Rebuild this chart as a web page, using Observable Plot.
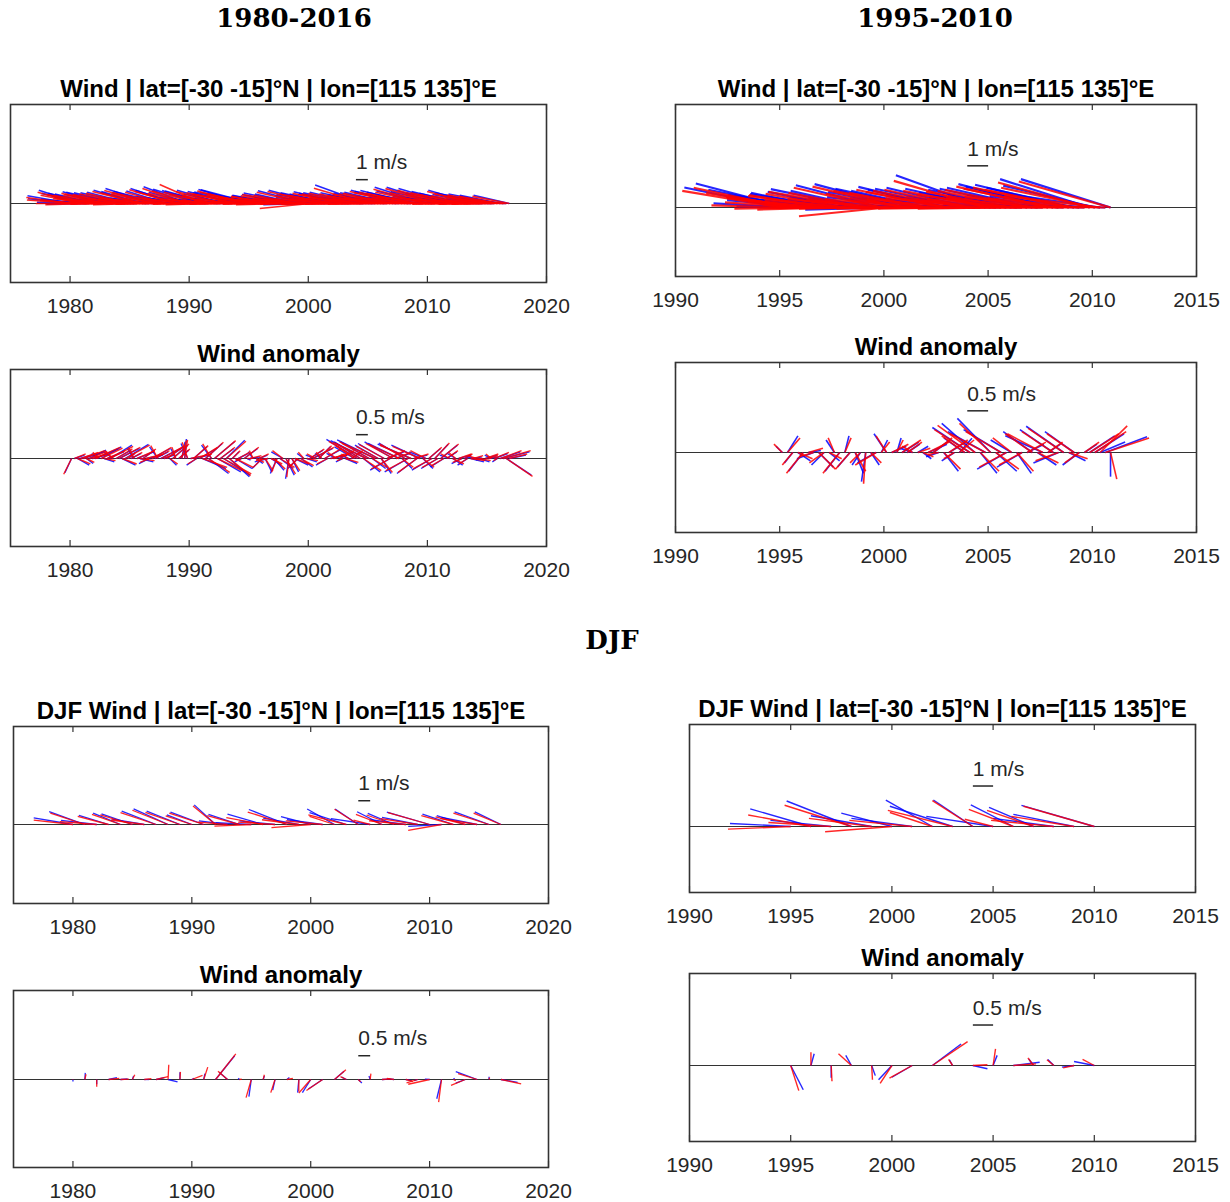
<!DOCTYPE html>
<html><head><meta charset="utf-8">
<script src="https://cdn.jsdelivr.net/npm/d3@7"></script>
<script src="https://cdn.jsdelivr.net/npm/@observablehq/plot@0.6"></script>
<style>
body{margin:0;background:#fff;}
#root{position:relative;width:1230px;height:1202px;overflow:hidden;background:#fff;}
.hdr{position:absolute;font-family:"DejaVu Serif",serif;font-weight:bold;font-size:26px;color:#000;transform:translate(-50%,-50%);white-space:nowrap;}
</style></head><body><div id="root"></div>
<script>
// ---------------- DATA ----------------
const yearsAll = [1980,1981,1982,1983,1984,1985,1986,1987,1988,1989,1990,1991,1992,1993,1994,1995,1996,1997,1998,1999,2000,2001,2002,2003,2004,2005,2006,2007,2008,2009,2010,2011,2012,2013,2014,2015,2016];
const years9510 = [1995,1996,1997,1998,1999,2000,2001,2002,2003,2004,2005,2006,2007,2008,2009,2010];
const seasonOffsets = [0.125, 0.375, 0.625, 0.875]; // DJF, MAM, JJA, SON

// Seasonal wind (m/s), 1980-2016, 4 values per year
const windBlueU = [
-3.7,-3.9,-3.4,-3.5, -3.5,-3.8,-3.6,-3.7, -3.4,-3.7,-3.3,-3.5, -3.6,-3.9,-3.5,-4.2, -3.8,-3.6,-3.4,-4.0,
-3.7,-3.8,-3.6,-3.9, -3.5,-3.9,-3.5,-3.9, -3.6,-4.0,-3.7,-4.2, -3.4,-3.7,-3.4,-3.8, -3.6,-3.8,-3.5,-3.7,
-3.5,-3.9,-3.6,-3.9, -3.4,-3.8,-3.5,-3.9, -3.7,-3.9,-3.6,-3.9, -3.6,-4.0,-3.5,-4.0, -3.8,-3.9,-3.7,-4.1,
-4.7,-4.4,-3.8,-4.3, -3.6,-3.9,-3.7,-4.3, -3.5,-3.8,-3.6,-4.3, -3.7,-4.0,-3.7,-4.3, -3.6,-3.9,-3.6,-4.1,
-3.9,-4.0,-3.7,-4.2, -3.8,-4.1,-3.8,-4.2, -3.7,-4.0,-3.7,-4.1, -3.9,-4.1,-3.8,-4.3, -4.0,-4.2,-3.9,-4.3,
-4.1,-4.3,-3.9,-4.2, -4.0,-4.2,-3.8,-4.2, -4.1,-4.3,-3.9,-4.3, -4.2,-4.4,-4.0,-4.5, -4.2,-4.3,-4.0,-4.3,
-4.4,-4.5,-4.1,-4.3, -4.2,-4.3,-3.9,-4.3, -3.9,-4.1,-3.8,-4.2, -3.8,-4.0,-3.7,-3.8, -3.7,-3.9,-3.6,-4.2,
-3.6,-3.8,-3.5,-4.1, -3.4,-3.6,-3.5,-3.0];
const windBlueV = [
0.65,0.40,0.10,1.12, 0.85,0.35,-0.05,0.85, 0.80,0.50,0.15,0.98, 0.75,0.45,0.05,0.95, 0.90,0.40,0.10,0.90,
0.95,0.50,0.00,1.12, 1.00,0.55,0.10,1.26, 0.90,0.45,0.05,1.00, 1.05,0.50,0.15,1.26, 1.10,0.60,0.10,1.40,
0.95,0.45,0.05,1.20, 1.10,0.50,0.00,1.05, 0.85,0.40,0.10,1.12, 0.80,0.35,0.05,1.00, 0.90,0.45,0.10,1.18,
0.96,1.15,0.20,0.85, 0.60,0.35,0.05,0.56, 0.70,0.40,0.00,0.64, 0.75,0.45,0.10,0.88, 0.80,0.50,0.05,1.07,
-0.10,0.45,0.10,1.12, 0.75,0.50,0.05,0.90, 0.80,0.45,0.10,0.99, 0.85,0.50,0.05,0.90, 0.95,0.55,0.10,1.55,
0.90,0.50,0.05,0.72, 0.85,0.50,0.10,0.90, 0.95,0.55,0.10,1.12, 1.00,0.60,0.15,1.09, 0.95,0.55,0.10,1.36,
1.05,0.65,0.15,1.36, 1.00,0.60,0.10,1.26, 0.90,0.50,0.05,1.00, 0.85,0.45,0.10,1.12, 0.75,0.40,0.05,0.90,
0.70,0.40,0.05,0.80, 0.70,0.45,0.10,0.70];
const windRedU = [
-3.8,-4.0,-3.5,-3.6, -3.6,-3.9,-3.7,-3.8, -3.5,-3.8,-3.4,-3.6, -3.7,-4.0,-3.6,-4.3, -3.9,-3.7,-3.5,-4.1,
-3.8,-3.9,-3.7,-4.0, -3.6,-4.0,-3.6,-4.0, -3.7,-4.1,-3.8,-4.3, -3.5,-3.8,-3.5,-3.9, -3.7,-3.9,-3.6,-3.8,
-3.6,-4.0,-3.7,-4.0, -3.6,-3.9,-3.6,-4.0, -3.8,-4.0,-3.7,-4.0, -3.7,-4.1,-3.6,-4.1, -3.9,-4.0,-3.8,-4.2,
-4.8,-4.5,-3.9,-4.4, -3.7,-4.0,-3.8,-4.4, -3.6,-3.9,-3.7,-4.4, -3.8,-4.1,-3.8,-4.4, -3.7,-4.0,-3.7,-4.2,
-4.2,-4.1,-3.8,-4.3, -3.9,-4.2,-3.9,-4.3, -3.8,-4.1,-3.8,-4.2, -4.0,-4.2,-3.9,-4.4, -4.1,-4.3,-4.0,-4.4,
-4.2,-4.4,-4.0,-4.3, -4.1,-4.3,-3.9,-4.3, -4.2,-4.4,-4.0,-4.4, -4.3,-4.5,-4.1,-4.6, -4.3,-4.4,-4.1,-4.4,
-4.5,-4.6,-4.2,-4.4, -4.3,-4.4,-4.0,-4.4, -4.0,-4.2,-3.9,-4.3, -3.9,-4.1,-3.8,-3.9, -3.8,-4.0,-3.7,-4.3,
-3.7,-3.9,-3.6,-4.2, -3.5,-3.7,-3.6,-3.1];
const windRedV = [
0.50,0.30,0.00,0.95, 0.70,0.25,-0.10,0.75, 0.70,0.40,0.05,0.85, 0.65,0.35,-0.05,0.80, 0.75,0.30,0.00,0.80,
0.85,0.40,-0.10,1.00, 0.90,0.45,0.00,1.10, 0.80,0.35,-0.05,0.90, 0.95,0.40,0.05,1.15, 1.00,0.50,0.00,1.25,
0.85,0.35,-0.05,1.05, 1.60,0.40,-0.10,0.95, 0.75,0.30,0.00,1.00, 0.70,0.25,-0.05,0.90, 0.80,0.35,0.00,1.05,
0.80,0.95,0.10,0.70, 0.50,0.25,-0.05,0.45, 0.60,0.30,-0.10,0.55, 0.65,0.35,0.00,0.75, 0.70,0.40,-0.05,0.95,
-0.42,0.35,0.00,1.00, 0.65,0.40,-0.05,0.80, 0.70,0.35,0.00,0.85, 0.75,0.40,-0.05,0.80, 0.85,0.45,0.00,1.28,
0.80,0.40,-0.05,0.62, 0.75,0.40,0.00,0.80, 0.85,0.45,0.00,1.00, 0.90,0.50,0.05,0.95, 0.85,0.45,0.00,1.20,
0.95,0.55,0.05,1.25, 0.90,0.50,0.00,1.10, 0.80,0.40,-0.05,0.90, 0.75,0.35,0.00,1.00, 0.65,0.30,-0.05,0.80,
0.60,0.30,-0.05,0.70, 0.60,0.35,0.00,0.60];

// Seasonal wind anomaly (m/s), 1980-2016
const anomBlueU = [
-0.28,0.42,0.49,0.70, 0.84,0.28,0.70,0.56, 0.98,-0.28,0.84,0.42, 0.70,0.91,-0.42,0.63, 0.84,0.56,0.98,0.28,
0.42,-0.28,0.70,0.56, 0.49,0.70,-0.42,0.77, 0.56,-0.35,0.84,0.42, 0.70,0.28,0.63,-0.21, 0.42,0.14,0.07,-0.28,
0.84,0.56,-0.42,0.70, 0.98,0.70,0.84,-0.42, 0.84,0.98,0.56,1.12, 0.77,0.84,0.28,0.70, 0.42,-0.28,0.56,0.14,
0.42,-0.21,0.28,0.35, -0.42,0.28,-0.56,0.42, 0.42,-0.28,0.56,-0.49, 0.35,-0.14,0.28,0.56, -0.42,0.49,-0.28,0.42,
0.56,0.84,-0.42,0.49, -0.28,0.63,-0.49,0.70, 0.42,-0.42,0.56,-0.28, 0.49,-0.35,0.42,-0.84, -1.30,-1.10,0.70,-1.50,
-1.20,0.56,-1.60,-0.98, 0.42,-1.10,0.70,-0.84, -1.20,0.56,-1.30,0.42, -1.10,-0.98,-1.40,0.56, -0.84,-1.20,0.42,-0.70,
0.49,-0.84,0.56,-0.70, 0.70,-0.56,0.42,-0.42, 0.42,-0.35,0.49,-0.42, 0.28,-0.42,0.56,0.35, -0.42,0.42,-0.28,0.49,
0.35,-0.28,0.56,-0.21, 0.84,1.10,1.05,0.70];
const anomBlueV = [
-0.60,0.14,-0.28,0.21, 0.28,-0.21,0.35,0.14, 0.42,0.21,0.49,-0.14, 0.28,0.56,0.28,0.35, 0.42,-0.28,0.59,0.21,
0.21,0.42,0.28,-0.14, 0.35,0.14,-0.21,0.42, 0.28,0.49,0.42,0.14, 0.49,-0.28,0.56,0.42, 0.35,0.70,0.82,0.63,
0.14,0.49,-0.28,0.42, -0.42,0.63,-0.63,0.56, 0.70,-0.56,0.42,-0.70, 0.77,-0.77,0.28,-0.42, 0.21,-0.14,0.42,-0.07,
0.07,0.28,-0.21,0.14, -0.42,-0.56,-0.14,-0.28, -0.49,-0.63,-0.42,0.28, -0.70,-0.85,-0.56,-0.28, -0.42,-0.35,0.21,-0.14,
0.35,0.42,0.14,0.49, 0.21,0.35,-0.28,0.14, 0.14,0.21,0.28,-0.14, -0.21,0.14,0.28,0.49, 0.80,0.70,-0.56,0.75,
0.70,-0.42,0.78,0.56, -0.63,0.63,0.28,-0.49, 0.70,0.21,0.63,-0.42, 0.65,-0.56,0.60,0.14, -0.63,0.56,-0.42,0.28,
0.42,-0.49,0.60,-0.42, 0.56,-0.35,0.28,0.14, -0.28,0.21,0.14,-0.21, 0.14,-0.28,-0.14,0.07, 0.07,-0.14,-0.07,0.14,
0.07,0.14,0.21,-0.14, 0.28,0.28,-0.70,0.14];
const anomRedU = [
-0.33,0.47,0.54,0.75, 0.89,0.33,0.75,0.61, 1.03,-0.23,0.89,0.47, 0.75,0.96,-0.37,0.68, 0.89,0.61,1.03,0.33,
0.47,-0.23,0.75,0.61, 0.54,0.75,-0.37,0.82, 0.61,-0.30,0.89,0.47, 0.75,0.33,0.68,-0.16, 0.47,0.19,0.12,-0.23,
0.89,0.61,-0.37,0.75, 1.03,0.75,0.89,-0.37, 0.89,1.03,0.61,1.17, 0.82,0.89,0.33,0.75, 0.47,-0.23,0.61,0.19,
0.47,-0.16,0.33,0.40, -0.37,0.33,-0.51,0.47, 0.47,-0.23,0.61,-0.44, 0.40,-0.09,0.33,0.61, -0.37,0.54,-0.23,0.47,
0.61,0.89,-0.37,0.54, -0.23,0.68,-0.44,0.75, 0.47,-0.37,0.61,-0.23, 0.54,-0.30,0.47,-0.79, -1.20,-1.05,0.75,-1.40,
-1.15,0.61,-1.50,-0.93, 0.47,-1.05,0.75,-0.79, -1.15,0.61,-1.25,0.47, -1.05,-0.93,-1.30,0.61, -0.79,-1.15,0.47,-0.65,
0.54,-0.79,0.61,-0.65, 0.75,-0.51,0.47,-0.37, 0.47,-0.30,0.54,-0.37, 0.33,-0.37,0.61,0.40, -0.37,0.47,-0.23,0.54,
0.40,-0.23,0.61,-0.16, 0.89,1.15,1.10,0.75];
const anomRedV = [
-0.66,0.19,-0.23,0.26, 0.33,-0.16,0.30,0.19, 0.47,0.26,0.44,-0.09, 0.33,0.51,0.33,0.40, 0.47,-0.23,0.56,0.26,
0.26,0.47,0.33,-0.09, 0.40,0.19,-0.16,0.47, 0.33,0.54,0.47,0.19, 0.54,-0.23,0.61,0.47, 0.40,0.75,0.78,0.68,
0.19,0.54,-0.23,0.47, -0.37,0.68,-0.58,0.61, 0.75,-0.51,0.47,-0.65, 0.72,-0.72,0.33,-0.37, 0.26,-0.09,0.47,0.00,
0.12,0.33,-0.16,0.19, -0.37,-0.51,-0.09,-0.23, -0.44,-0.58,-0.37,0.33, -0.65,-0.78,-0.51,-0.23, -0.37,-0.30,0.26,-0.09,
0.40,0.47,0.19,0.54, 0.26,0.40,-0.23,0.19, 0.19,0.26,0.33,-0.09, -0.16,0.19,0.33,0.54, 0.72,0.65,-0.51,0.68,
0.63,-0.37,0.70,0.51, -0.58,0.58,0.33,-0.44, 0.63,0.26,0.58,-0.37, 0.60,-0.51,0.55,0.19, -0.58,0.51,-0.37,0.33,
0.47,-0.44,0.65,-0.37, 0.61,-0.30,0.33,0.19, -0.23,0.26,0.19,-0.16, 0.19,-0.23,-0.09,0.12, 0.12,-0.09,-0.02,0.19,
0.12,0.19,0.26,-0.09, 0.33,0.33,-0.75,0.19];

// Seasonal wind anomaly (m/s), 1995-2010 base period
const anom9510BlueU = [
-0.15,0.25,-0.20,0.30, -0.35,0.30,-0.40,0.35, -0.30,0.25,-0.20,-0.35, 0.10,-0.30,0.20,-0.20,
-0.10,0.20,-0.45,0.15, -0.30,0.35,0.10,0.40, 0.30,-0.30,0.25,0.20, 0.45,0.40,-0.30,0.35,
0.40,-0.30,0.30,-0.50, -0.90,-0.80,0.40,-0.90, -0.80,0.50,-0.90,-0.70, -0.50,0.35,-0.60,0.40,
-0.70,0.45,-0.90,0.30, -0.80,-0.60,-0.90,0.40, -0.70,-0.40,0.30,0.60, 0.70,0.60,1.00,0.00];
const anom9510BlueV = [
0.15,0.40,-0.25,-0.20, -0.45,0.05,-0.15,-0.35, -0.30,-0.20,0.30,-0.45, 0.40,-0.35,-0.50,-0.30,
-0.70,-0.30,-0.25,0.30, 0.45,0.15,0.35,0.25, 0.20,0.10,0.15,-0.15, 0.20,0.30,-0.10,-0.45,
0.25,-0.20,0.34,0.35, 0.60,0.70,-0.50,0.50, 0.82,-0.45,0.55,-0.40, 0.30,-0.50,-0.35,0.20,
0.50,-0.30,0.40,0.20, 0.55,-0.25,0.63,-0.20, 0.50,-0.30,0.20,0.40, 0.45,0.25,0.38,-0.58];
const anom9510RedU = [
-0.20,0.30,-0.25,0.35, -0.40,0.35,-0.35,0.40, -0.35,0.30,-0.15,-0.40, 0.15,-0.35,0.25,-0.25,
-0.05,0.25,-0.50,0.20, -0.25,0.40,0.15,0.45, 0.35,-0.25,0.30,0.25, 0.50,0.45,-0.25,0.40,
0.45,-0.25,0.35,-0.55, -0.85,-0.90,0.45,-0.85, -0.75,0.55,-0.85,-0.65, -0.45,0.40,-0.55,0.45,
-0.65,0.50,-0.85,0.35, -0.75,-0.55,-0.85,0.45, -0.65,-0.35,0.35,0.70, 0.75,0.65,1.05,0.15];
const anom9510RedV = [
0.20,0.35,-0.30,-0.15, -0.50,0.10,-0.10,-0.40, -0.25,-0.15,0.35,-0.50, 0.35,-0.40,-0.45,-0.25,
-0.75,-0.25,-0.30,0.25, 0.40,0.20,0.30,0.30, 0.25,0.15,0.10,-0.10, 0.25,0.35,-0.05,-0.40,
0.30,-0.15,0.30,0.40, 0.55,0.65,-0.45,0.45, 0.70,-0.40,0.50,-0.35, 0.35,-0.45,-0.30,0.25,
0.45,-0.25,0.45,0.25, 0.50,-0.20,0.58,-0.15, 0.45,-0.25,0.25,0.45, 0.50,0.64,0.35,-0.64];

// DJF wind (m/s), one value per year 1980-2016
const djfBlueU = [-3.3,-3.0,-3.0,-2.5,-2.3,-2.6,-2.7,-2.9,-2.9,-2.8,-2.1,-2.8,-1.8,-2.4,-2.6,-3.0,-3.0,-3.0,-3.2,-3.0,-2.5,-3.0,-2.3,-3.1,-1.95,-3.3,-2.1,-2.2,-3.0,-3.0,-3.6,-2.8,-2.6,-2.4,-3.0,-2.9,-2.2];
const djfBlueV = [0.56,1.09,0.35,0.76,0.95,0.90,0.45,1.12,1.32,1.12,0.81,1.04,1.65,0.30,0.85,0.15,0.87,0.30,1.26,0.53,0.66,0.40,1.30,1.00,1.31,0.50,1.07,0.94,0.40,0.60,1.04,-0.15,0.87,0.75,0.60,1.06,1.06];
const djfRedU = [-3.3,-2.9,-3.1,-2.6,-2.4,-2.7,-2.8,-3.0,-3.0,-2.9,-2.2,-2.9,-1.9,-2.5,-2.7,-3.1,-3.1,-3.1,-3.3,-3.1,-3.3,-3.1,-2.1,-3.2,-2.0,-1.4,-2.2,-2.3,-3.1,-3.1,-3.5,-2.8,-2.7,-2.5,-3.1,-3.0,-2.3];
const djfRedV = [0.36,0.95,0.25,0.68,0.85,0.80,0.38,1.00,1.20,1.02,0.72,0.95,1.55,0.20,0.75,-0.13,0.57,0.20,1.05,0.40,-0.26,0.30,0.69,0.80,1.28,0.36,0.85,0.80,0.30,0.50,1.00,-0.50,0.75,0.65,0.50,0.95,0.95];

// DJF wind anomaly (m/s), 1980-2016
const djfAnomBlueU = [0.00,0.02,0.00,0.35,0.30,0.05,0.20,0.35,0.40,0.00,0.10,0.05,0.80,-0.35,-0.05,-0.10,0.05,-0.10,0.10,-0.05,-0.35,-0.60,0.40,-0.20,0.15,-0.05,0.30,-0.20,0.25,-0.15,-0.20,-0.20,0.05,-0.40,-0.90,0.00,0.70];
const djfAnomBlueV = [-0.08,0.28,-0.20,0.08,0.03,0.15,0.00,0.08,-0.10,0.30,0.05,0.25,1.00,0.30,0.05,-0.72,0.15,-0.45,0.08,-0.55,-0.55,-0.40,0.35,0.10,-0.15,0.15,0.02,0.03,-0.05,-0.05,0.02,-0.81,0.05,-0.15,0.33,0.12,-0.12];
const djfAnomRedU = [0.00,0.05,0.00,0.45,0.35,0.10,0.30,0.50,0.03,0.02,0.45,0.17,0.85,-0.40,0.10,-0.22,0.05,-0.18,0.25,0.00,-0.50,-0.68,0.48,-0.25,0.10,0.03,0.35,-0.30,0.30,-0.47,-0.90,-0.12,0.10,-0.60,-0.80,0.02,0.85];
const djfAnomRedV = [-0.02,0.22,-0.31,0.05,0.02,0.20,0.04,0.12,0.62,0.32,0.17,0.52,1.08,0.35,0.02,-0.76,0.20,-0.55,0.05,-0.50,-0.57,-0.46,0.41,0.12,-0.10,0.25,0.03,0.05,-0.08,-0.14,-0.20,-0.95,-0.05,-0.25,0.25,0.08,-0.18];

// DJF wind anomaly (m/s), 1995-2010 base period
const djfAnom9510BlueU = [0.31,0.08,0.00,-0.14,0.09,-0.33,-0.50,0.71,-0.08,0.36,0.10,0.65,-0.12,-0.15,-0.30,-0.50];
const djfAnom9510BlueV = [-0.60,0.29,-0.30,0.25,-0.25,-0.35,-0.29,0.53,0.14,-0.08,0.25,0.08,0.16,0.15,-0.04,0.10];
const djfAnom9510RedU = [0.20,0.00,0.02,-0.32,0.02,-0.29,-0.56,0.87,-0.10,0.36,0.06,0.56,-0.14,-0.17,-0.27,-0.29];
const djfAnom9510RedV = [-0.62,0.33,-0.39,0.29,-0.35,-0.44,-0.31,0.59,0.15,0.02,0.41,0.04,0.19,0.14,-0.06,0.15];

const ticksLong = [1980, 1990, 2000, 2010, 2020];
const ticksShort = [1990, 1995, 2000, 2005, 2010, 2015];
const titleWind = "Wind | lat=[-30 -15]°N | lon=[115 135]°E";
const titleDJF = "DJF Wind | lat=[-30 -15]°N | lon=[115 135]°E";
const titleAnom = "Wind anomaly";

// ---------------- BUILD ----------------
const seasonalRows = (years, u, v) => u.map((uu, i) => ({t: years[Math.floor(i / 4)] + seasonOffsets[i % 4], u: uu, v: v[i]}));
const yearlyRows = (years, u, v) => u.map((uu, i) => ({t: years[i], u: uu, v: v[i]}));
const inWindow = d => d.t >= 1995 && d.t < 2011;

const wind = [seasonalRows(yearsAll, windBlueU, windBlueV), seasonalRows(yearsAll, windRedU, windRedV)];
const anom = [seasonalRows(yearsAll, anomBlueU, anomBlueV), seasonalRows(yearsAll, anomRedU, anomRedV)];
const anom9510 = [seasonalRows(years9510, anom9510BlueU, anom9510BlueV), seasonalRows(years9510, anom9510RedU, anom9510RedV)];
const djf = [yearlyRows(yearsAll, djfBlueU, djfBlueV), yearlyRows(yearsAll, djfRedU, djfRedV)];
const djfAnom = [yearlyRows(yearsAll, djfAnomBlueU, djfAnomBlueV), yearlyRows(yearsAll, djfAnomRedU, djfAnomRedV)];
const djfAnom9510 = [yearlyRows(years9510, djfAnom9510BlueU, djfAnom9510BlueV), yearlyRows(years9510, djfAnom9510RedU, djfAnom9510RedV)];

const root = document.getElementById("root");
const FONT = "'Liberation Sans', Arial, Helvetica, sans-serif";

function panel(p) {
  const mL = 40, mR = 40, mT = 40, mB = 50;
  const w = p.right - p.left, h = p.bottom - p.top;
  const ppu = w / (p.x1 - p.x0);
  const yTop = (p.zero - p.top) / ppu, yBot = -(p.bottom - p.zero) / ppu;
  const tickLen = 6 / ppu;
  const k = p.k;
  const stick = (rows, color) => Plot.link(rows, {
    x1: "t", y1: 0, x2: d => d.t + k * d.u, y2: d => k * d.v,
    stroke: color, strokeWidth: p.sw, strokeOpacity: 0.85
  });
  const barX = 2004, barY = 2;
  const svg = Plot.plot({
    width: w + mL + mR, height: h + mT + mB,
    marginLeft: mL, marginRight: mR, marginTop: mT, marginBottom: mB,
    x: {domain: [p.x0, p.x1]},
    y: {domain: [yBot, yTop], axis: null},
    style: {fontFamily: FONT, fontSize: "21px", background: "transparent", overflow: "visible"},
    marks: [
      Plot.ruleY([0], {stroke: "#333", strokeWidth: 1.1}),
      stick(p.data[0], "#0000ff"),
      stick(p.data[1], "#ff0000"),
      Plot.link([p.barValue], {x1: barX, x2: d => barX + k * d, y1: barY, y2: barY, stroke: "#262626", strokeWidth: 1.5}),
      Plot.text([p.barLabel], {x: barX, y: barY, text: d => d, dy: -17, textAnchor: "start", lineAnchor: "middle", fontSize: 21, fill: "#262626"}),
      Plot.ruleX(p.ticks, {x: d => d, y1: yTop, y2: yTop - tickLen, stroke: "#333", strokeWidth: 1.2}),
      Plot.ruleX(p.ticks, {x: d => d, y1: yBot, y2: yBot + tickLen, stroke: "#333", strokeWidth: 1.2}),
      Plot.frame({stroke: "#333", strokeWidth: 1.6}),
      Plot.axisX({anchor: "bottom", ticks: p.ticks, tickSize: 0, tickPadding: 16, tickFormat: d => String(d), label: null, fill: "#262626", fontSize: 21}),
      Plot.text([p.title], {frameAnchor: "top", dy: -15, lineAnchor: "middle", fontSize: 24, fontWeight: "bold", fill: "#000"})
    ]
  });
  svg.style.position = "absolute";
  svg.style.left = (p.left - mL) + "px";
  svg.style.top = (p.top - mT) + "px";
  root.appendChild(svg);
}

function header(text, x, y) {
  const d = document.createElement("div");
  d.className = "hdr";
  d.textContent = text;
  d.style.left = x + "px";
  d.style.top = y + "px";
  root.appendChild(d);
}

header("1980-2016", 294, 18);
header("1995-2010", 935, 18);
header("DJF", 612, 640);

panel({left: 10, top: 104, right: 546, bottom: 282, zero: 203, x0: 1975, x1: 2020, ticks: ticksLong, k: 1, sw: 1.6, data: wind, barValue: 1, barLabel: "1 m/s", title: titleWind});
panel({left: 10, top: 369, right: 546, bottom: 546, zero: 458, x0: 1975, x1: 2020, ticks: ticksLong, k: 2, sw: 1.4, data: anom, barValue: 0.5, barLabel: "0.5 m/s", title: titleAnom});
panel({left: 675, top: 104, right: 1196, bottom: 276, zero: 207, x0: 1990, x1: 2015, ticks: ticksShort, k: 1, sw: 2.2, data: wind.map(r => r.filter(inWindow)), barValue: 1, barLabel: "1 m/s", title: titleWind});
panel({left: 675, top: 362, right: 1196, bottom: 532, zero: 452, x0: 1990, x1: 2015, ticks: ticksShort, k: 2, sw: 1.6, data: anom9510, barValue: 0.5, barLabel: "0.5 m/s", title: titleAnom});
panel({left: 13, top: 726, right: 548, bottom: 903, zero: 824, x0: 1975, x1: 2020, ticks: ticksLong, k: 1, sw: 1.3, data: djf, barValue: 1, barLabel: "1 m/s", title: titleDJF});
panel({left: 13, top: 990, right: 548, bottom: 1167, zero: 1079, x0: 1975, x1: 2020, ticks: ticksLong, k: 2, sw: 1.3, data: djfAnom, barValue: 0.5, barLabel: "0.5 m/s", title: titleAnom});
panel({left: 689, top: 724, right: 1195, bottom: 892, zero: 826, x0: 1990, x1: 2015, ticks: ticksShort, k: 1, sw: 1.4, data: djf.map(r => r.filter(d => d.t >= 1995 && d.t <= 2010)), barValue: 1, barLabel: "1 m/s", title: titleDJF});
panel({left: 689, top: 973, right: 1195, bottom: 1141, zero: 1065, x0: 1990, x1: 2015, ticks: ticksShort, k: 2, sw: 1.4, data: djfAnom9510, barValue: 0.5, barLabel: "0.5 m/s", title: titleAnom});
</script></body></html>
